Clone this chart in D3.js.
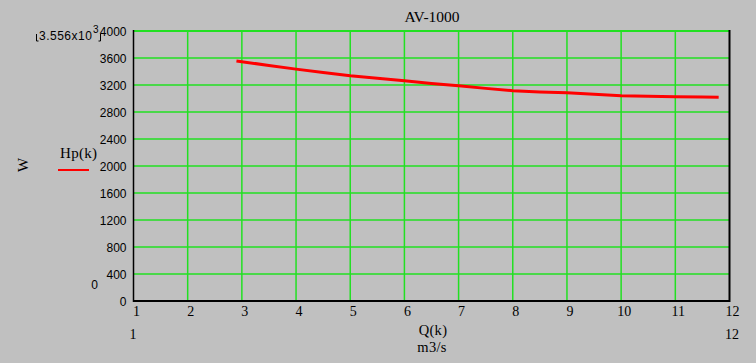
<!DOCTYPE html>
<html><head><meta charset="utf-8">
<script src="https://cdn.jsdelivr.net/npm/d3@7"></script>
<style>body{margin:0;background:#c0c0c0;} svg{display:block;}</style>
</head><body>
<svg id="c" width="756" height="363"></svg>
<script>
const qValues = [2.9, 3.5, 4, 4.5, 5, 5.5, 6, 6.5, 7, 7.5, 8, 8.5, 9, 9.5, 10, 10.5, 11, 11.5, 11.8];
const hpValues = [3556, 3490, 3435, 3385, 3338, 3300, 3262, 3222, 3190, 3150, 3116, 3098, 3084, 3062, 3042, 3035, 3027, 3022, 3020];
const xTicks = [1,2,3,4,5,6,7,8,9,10,11,12];
const yTicks = [0,400,800,1200,1600,2000,2400,2800,3200,3600,4000];

const svg = d3.select("#c");
const x = d3.scaleLinear().domain([1,12]).range([133.5,729.5]);
const y = d3.scaleLinear().domain([0,4000]).range([301,31]);
const sans = "'Liberation Sans', Arial, sans-serif";
const serif = "'Liberation Serif', 'Times New Roman', serif";

// grid
const g = svg.append("g");
g.selectAll(".vx").data(xTicks.slice(1,-1)).enter().append("line")
  .attr("x1",d=>x(d)).attr("x2",d=>x(d)).attr("y1",y(4000)).attr("y2",y(0))
  .attr("stroke","#22e022").attr("stroke-width",1.5);
g.selectAll(".hy").data(yTicks.slice(1)).enter().append("line")
  .attr("x1",x(1)).attr("x2",x(12)).attr("y1",d=>y(d)).attr("y2",d=>y(d))
  .attr("stroke","#22e022").attr("stroke-width",d=>d===4000?2:1.5);

// axes frame
svg.append("line").attr("x1",x(1)).attr("x2",x(1)).attr("y1",y(4000)-1).attr("y2",y(0)+1).attr("stroke","#000").attr("stroke-width",1.5);
svg.append("line").attr("x1",x(12)).attr("x2",x(12)).attr("y1",y(4000)-1).attr("y2",y(0)+1).attr("stroke","#000").attr("stroke-width",2);
svg.append("line").attr("x1",x(1)).attr("x2",x(12)).attr("y1",y(0)).attr("y2",y(0)).attr("stroke","#000").attr("stroke-width",2);

// y tick labels
svg.selectAll(".yl").data(yTicks).enter().append("text")
  .attr("x",126.5).attr("y",d=>y(d)+4.5).attr("text-anchor","end")
  .attr("font-family",sans).attr("font-size",12).attr("fill","#000").text(d=>d);
// x tick labels
svg.selectAll(".xl").data(xTicks).enter().append("text")
  .attr("x",d=>x(d)+3).attr("y",316).attr("text-anchor","middle")
  .attr("font-family",serif).attr("font-size",14).attr("fill","#000").text(d=>d);

// line
const line = d3.line().x((d,i)=>x(qValues[i])).y(d=>y(d));
svg.append("path").datum(hpValues).attr("d",line).attr("fill","none")
  .attr("stroke","#ff0000").attr("stroke-width",3);

// texts
svg.append("text").attr("x",432).attr("y",22).attr("text-anchor","middle")
  .attr("font-family",serif).attr("font-size",15.5).text("AV-1000");
svg.append("text").attr("x",39).attr("y",40).attr("font-family",sans).attr("font-size",12)
  .attr("letter-spacing",0.5).text("3.556x10");
svg.append("text").attr("x",93).attr("y",33).attr("font-family",sans).attr("font-size",10).text("3");
svg.append("path").attr("d","M36.5,34 v7 h2 M100.5,34 v7 h-2").attr("fill","none").attr("stroke","#000").attr("stroke-width",1);
svg.append("text").attr("transform","translate(28,165) rotate(-90)").attr("text-anchor","middle")
  .attr("font-family",serif).attr("font-size",15).text("W");
svg.append("text").attr("x",60).attr("y",158).attr("font-family",serif).attr("font-size",15).attr("letter-spacing",0.3).text("Hp(k)");
svg.append("line").attr("x1",58).attr("x2",89).attr("y1",170).attr("y2",170).attr("stroke","#ff0000").attr("stroke-width",2);
svg.append("text").attr("x",94.5).attr("y",289).attr("text-anchor","middle").attr("font-family",sans).attr("font-size",12).text("0");
svg.append("text").attr("x",133).attr("y",339).attr("text-anchor","middle").attr("font-family",serif).attr("font-size",14).text("1");
svg.append("text").attr("x",732).attr("y",339).attr("text-anchor","middle").attr("font-family",serif).attr("font-size",14).text("12");
svg.append("text").attr("x",433).attr("y",335).attr("text-anchor","middle").attr("font-family",serif).attr("font-size",14.5).attr("letter-spacing",0.3).text("Q(k)");
svg.append("text").attr("x",432).attr("y",351.5).attr("text-anchor","middle").attr("font-family",serif).attr("font-size",14.5).attr("letter-spacing",0.3).text("m3/s");
</script>
</body></html>
